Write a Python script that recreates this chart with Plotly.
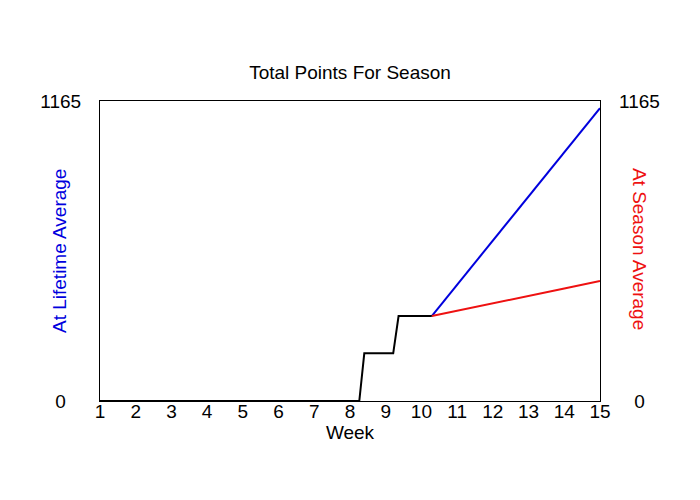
import plotly.graph_objects as go

weeks_actual = [1, 8.26, 8.40, 9.21, 9.36, 10.29]
points_actual = [0, 0, 185, 185, 330, 330]

weeks_proj = [10.29, 11, 12, 13, 14, 15]
lifetime_proj = [330, 452, 623, 794, 966, 1137]
season_proj = [330, 350, 379, 408, 437, 466]

x_ticks = list(range(1, 16))
y_ticks = [0, 1165]
y_text_left = ["0\u2007\u2005", "1165"]
y_text_right = ["\u2007\u20050", "1165"]

fig = go.Figure()
fig.add_trace(go.Scatter(x=weeks_proj, y=lifetime_proj, mode="lines",
                         line=dict(color="#0000dd", width=2), showlegend=False))
fig.add_trace(go.Scatter(x=weeks_proj, y=season_proj, mode="lines",
                         line=dict(color="#ee1111", width=2), showlegend=False))
fig.add_trace(go.Scatter(x=weeks_actual, y=points_actual, mode="lines",
                         line=dict(color="black", width=2), showlegend=False))
fig.add_trace(go.Scatter(x=[1], y=[0], mode="markers", marker=dict(opacity=0),
                         yaxis="y2", showlegend=False, hoverinfo="skip"))

font = "Liberation Sans, Arial, sans-serif"
fig.update_layout(
    width=700, height=500,
    margin=dict(l=92, r=108, t=93, b=107, autoexpand=False),
    paper_bgcolor="white", plot_bgcolor="white",
    font=dict(family=font, color="black"),
    title=dict(text="Total Points For Season", x=0.5, xanchor="center",
               xref="paper", yref="container",
               y=1 - 64 / 500, yanchor="middle", font=dict(size=19, color="black")),
    xaxis=dict(range=[1, 15], tickvals=x_ticks, ticktext=[str(v) for v in x_ticks],
               showgrid=False, zeroline=False, showline=True, linecolor="black",
               linewidth=1, mirror=True, ticks="", tickfont=dict(size=19),
               ticklabelstandoff=-7, automargin=False,
               title=dict(text="Week", font=dict(size=19), standoff=0)),
    yaxis=dict(range=[0, 1165], tickvals=y_ticks, ticktext=y_text_left,
               showgrid=False, zeroline=False, showline=True, linecolor="black",
               linewidth=1, mirror=True, ticks="", tickfont=dict(size=19),
               ticklabelstandoff=14, automargin=False),
    yaxis2=dict(range=[0, 1165], tickvals=y_ticks, ticktext=y_text_right,
                overlaying="y", side="right", showgrid=False, zeroline=False,
                showline=False, ticks="", tickfont=dict(size=19),
                ticklabelstandoff=18, automargin=False),
    annotations=[
        dict(text="At Lifetime Average", xref="paper", yref="paper",
             x=-0.082, y=0.5, xanchor="center", yanchor="middle",
             textangle=-90, showarrow=False,
             font=dict(size=19, color="#0000dd")),
        dict(text="At Season Average", xref="paper", yref="paper",
             x=1.078, y=0.507, xanchor="center", yanchor="middle",
             textangle=90, showarrow=False,
             font=dict(size=19, color="#ee1111")),
    ],
)

fig.write_html("out.html")
